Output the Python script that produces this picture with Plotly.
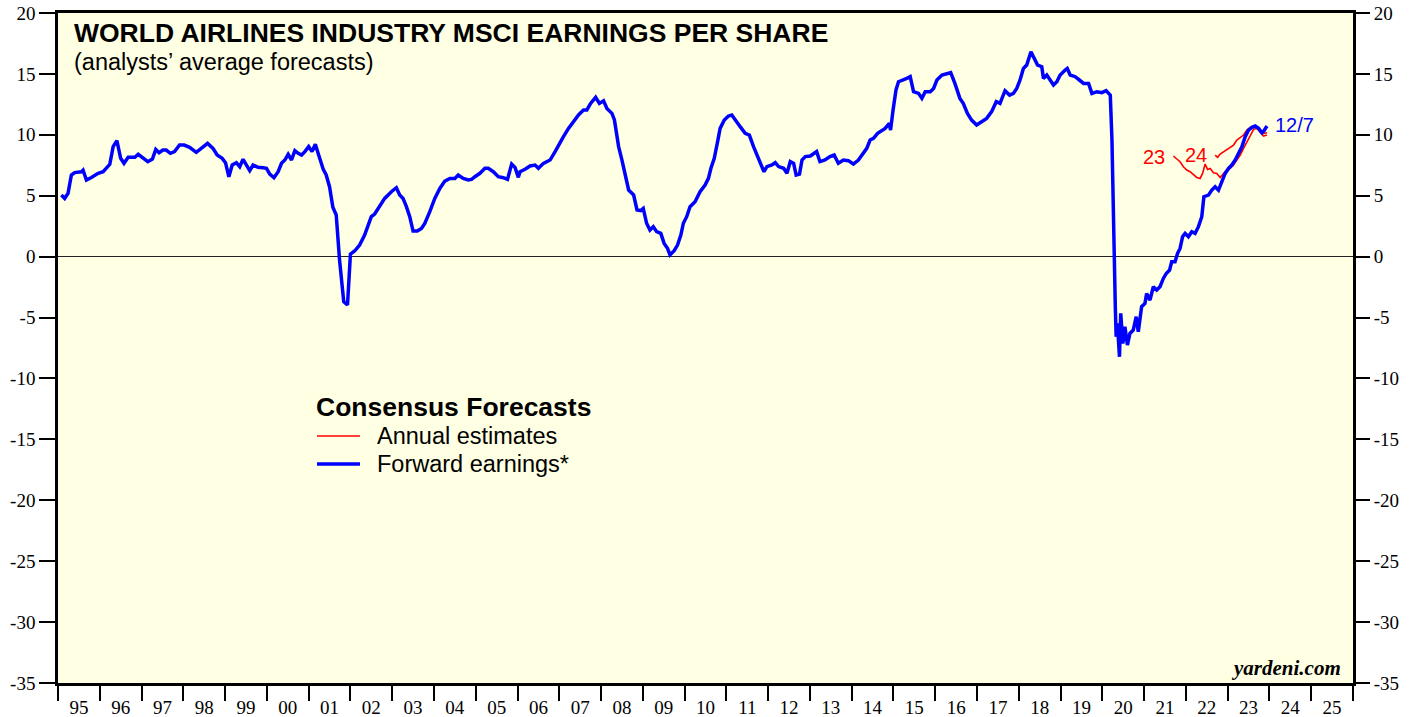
import plotly.graph_objects as go

# Forward earnings (decimal year, EPS)
fwd_year = [1995.08, 1995.16, 1995.24, 1995.32, 1995.40, 1995.56, 1995.60, 1995.68, 1995.80, 1995.96,
            1996.08, 1996.16, 1996.24, 1996.32, 1996.41, 1996.50, 1996.58, 1996.68, 1996.84, 1996.92,
            1997.04, 1997.15, 1997.26, 1997.34, 1997.42, 1997.51, 1997.59, 1997.69, 1997.79, 1997.91,
            1998.02, 1998.15, 1998.31, 1998.43, 1998.58, 1998.71, 1998.81, 1998.93, 1999.01, 1999.09,
            1999.17, 1999.27, 1999.35, 1999.43, 1999.51, 1999.59, 1999.67, 1999.79, 1999.91, 1999.99,
            2000.07, 2000.17, 2000.27, 2000.35, 2000.43, 2000.51, 2000.59, 2000.67, 2000.75, 2000.83,
            2000.91, 2001.00, 2001.08, 2001.16, 2001.24, 2001.35, 2001.42, 2001.50, 2001.58, 2001.66,
            2001.74, 2001.84, 2001.93, 2002.00, 2002.10, 2002.22, 2002.34, 2002.42, 2002.50, 2002.58,
            2002.66, 2002.82, 2002.98, 2003.10, 2003.18, 2003.26, 2003.34, 2003.42, 2003.50, 2003.60,
            2003.70, 2003.78, 2003.90, 2004.02, 2004.14, 2004.26, 2004.38, 2004.50, 2004.58, 2004.70,
            2004.82, 2004.90, 2004.98, 2005.10, 2005.22, 2005.30, 2005.42, 2005.54, 2005.66, 2005.76,
            2005.86, 2005.94, 2006.02, 2006.06, 2006.18, 2006.30, 2006.42, 2006.50, 2006.62, 2006.78,
            2006.90, 2006.98, 2007.10, 2007.22, 2007.34, 2007.46, 2007.58, 2007.66, 2007.75, 2007.87,
            2007.96, 2008.06, 2008.14, 2008.26, 2008.32, 2008.42, 2008.50, 2008.58, 2008.66, 2008.78,
            2008.86, 2008.95, 2009.01, 2009.09, 2009.17, 2009.25, 2009.33, 2009.43, 2009.51, 2009.59,
            2009.65, 2009.75, 2009.83, 2009.91, 2009.97, 2010.05, 2010.13, 2010.25, 2010.37, 2010.49,
            2010.57, 2010.63, 2010.71, 2010.79, 2010.85, 2010.95, 2011.05, 2011.13, 2011.21, 2011.33,
            2011.45, 2011.55, 2011.65, 2011.74, 2011.82, 2011.90, 2011.97, 2012.09, 2012.17, 2012.25,
            2012.37, 2012.45, 2012.53, 2012.61, 2012.67, 2012.75, 2012.81, 2012.89, 2013.01, 2013.16,
            2013.24, 2013.36, 2013.48, 2013.58, 2013.68, 2013.80, 2013.92, 2014.04, 2014.16, 2014.24,
            2014.36, 2014.44, 2014.52, 2014.62, 2014.80, 2014.90, 2014.93, 2014.99, 2015.06, 2015.12,
            2015.24, 2015.32, 2015.40, 2015.48, 2015.60, 2015.68, 2015.76, 2015.88, 2015.96, 2016.04,
            2016.16, 2016.28, 2016.37, 2016.47, 2016.59, 2016.67, 2016.77, 2016.87, 2016.99, 2017.11,
            2017.23, 2017.35, 2017.46, 2017.55, 2017.67, 2017.78, 2017.87, 2017.95, 2018.03, 2018.11,
            2018.19, 2018.29, 2018.37, 2018.45, 2018.55, 2018.59, 2018.67, 2018.75, 2018.83, 2018.91,
            2018.99, 2019.11, 2019.16, 2019.23, 2019.35, 2019.45, 2019.55, 2019.67, 2019.75, 2019.87,
            2019.99, 2020.09, 2020.19, 2020.23, 2020.27, 2020.31, 2020.33, 2020.36, 2020.41, 2020.44,
            2020.49, 2020.54, 2020.60, 2020.66, 2020.74, 2020.81, 2020.86, 2020.94, 2021.02, 2021.06,
            2021.14, 2021.22, 2021.30, 2021.38, 2021.46, 2021.53, 2021.61, 2021.66, 2021.74, 2021.80,
            2021.86, 2021.92, 2021.98, 2022.06, 2022.14, 2022.22, 2022.30, 2022.38, 2022.43, 2022.54,
            2022.62, 2022.70, 2022.78, 2022.86, 2022.94, 2023.02, 2023.10, 2023.18, 2023.26, 2023.34,
            2023.42, 2023.50, 2023.58, 2023.66, 2023.74, 2023.82, 2023.87, 2023.94]
fwd_eps = [5.06, 4.78, 5.20, 6.70, 6.90, 6.97, 7.10, 6.29, 6.50, 6.84,
           6.97, 7.25, 7.58, 9.03, 9.52, 8.07, 7.66, 8.15, 8.15, 8.40,
           8.07, 7.79, 8.01, 8.80, 8.53, 8.75, 8.75, 8.48, 8.62, 9.16,
           9.16, 8.97, 8.56, 8.89, 9.30, 8.89, 8.34, 8.07, 7.71, 6.56,
           7.52, 7.71, 7.38, 7.99, 7.58, 7.06, 7.52, 7.33, 7.30, 7.25,
           6.78, 6.48, 6.97, 7.66, 7.93, 8.40, 7.93, 8.70, 8.48, 8.34,
           8.62, 9.03, 8.62, 9.22, 8.34, 7.16, 6.70, 5.74, 4.05, 3.42,
           -0.28, -3.70, -3.97, 0.21, 0.46, 0.95, 1.77, 2.46, 3.28, 3.50,
           3.96, 4.78, 5.33, 5.66, 5.06, 4.78, 4.10, 3.28, 2.10, 2.10,
           2.32, 2.73, 3.69, 4.78, 5.60, 6.20, 6.42, 6.42, 6.70, 6.42,
           6.29, 6.34, 6.56, 6.84, 7.25, 7.25, 6.97, 6.56, 6.48, 6.34,
           7.60, 7.33, 6.51, 6.97, 7.17, 7.44, 7.52, 7.25, 7.66, 7.93,
           8.62, 9.16, 9.85, 10.53, 11.08, 11.63, 12.04, 12.04, 12.58, 13.08,
           12.58, 12.80, 12.17, 11.76, 11.22, 9.03, 7.93, 6.84, 5.47, 5.06,
           3.83, 3.78, 3.96, 2.74, 2.19, 2.46, 2.05, 1.91, 1.09, 0.68,
           0.14, 0.49, 0.95, 1.77, 2.74, 3.28, 4.10, 4.51, 5.33, 5.88,
           6.43, 7.25, 8.07, 9.44, 10.53, 11.22, 11.54, 11.63, 11.22, 10.67,
           10.12, 9.98, 9.03, 8.34, 7.71, 6.97, 7.39, 7.52, 7.71, 7.39,
           7.25, 6.84, 7.80, 7.66, 6.70, 6.78, 7.93, 8.21, 8.26, 8.62,
           7.80, 7.93, 8.21, 8.34, 7.66, 7.93, 7.88, 7.60, 7.93, 8.34,
           8.89, 9.57, 9.71, 10.12, 10.53, 10.94, 10.39, 12.03, 13.68, 14.36,
           14.50, 14.63, 14.77, 13.54, 13.40, 12.99, 13.54, 13.54, 13.81, 14.50,
           14.91, 15.04, 15.10, 14.22, 12.99, 12.58, 11.76, 11.21, 10.80, 11.07,
           11.35, 11.90, 12.72, 12.58, 13.62, 13.26, 13.40, 13.81, 14.50, 15.45,
           15.73, 16.82, 16.27, 15.73, 15.59, 14.63, 14.91, 14.50, 14.09, 14.36,
           14.91, 15.32, 15.45, 14.91, 14.77, 14.50, 14.22, 14.22, 13.40, 13.54,
           13.46, 13.62, 13.26, 9.57, 1.36, -4.11, -6.58, -5.48, -8.22, -4.66,
           -7.13, -5.76, -7.26, -6.30, -6.03, -4.93, -6.17, -4.11, -3.84, -3.02,
           -3.57, -2.47, -2.74, -2.47, -1.79, -1.38, -1.10, -0.42, -0.42, 0.26,
           0.67, 1.63, 1.91, 1.63, 2.04, 1.91, 2.46, 3.28, 4.92, 5.05,
           5.46, 5.74, 5.46, 6.15, 6.83, 7.24, 7.52, 7.93, 8.47, 9.02,
           9.84, 10.39, 10.61, 10.72, 10.53, 10.17, 10.34, 10.72]

# Annual estimates for 2023
est23_year = [2021.70, 2021.78, 2021.86, 2021.94, 2022.02, 2022.10, 2022.18, 2022.26, 2022.34, 2022.40,
              2022.46, 2022.52, 2022.58, 2022.66, 2022.74, 2022.82, 2022.90, 2022.98, 2023.06, 2023.14,
              2023.22, 2023.30, 2023.38, 2023.46, 2023.54, 2023.62, 2023.70, 2023.78, 2023.86, 2023.94]
est23 = [8.26, 8.06, 7.79, 7.38, 7.11, 6.97, 6.70, 6.50, 6.42, 6.83,
         7.60, 7.16, 7.24, 6.89, 6.83, 6.50, 6.83, 7.11, 7.24, 7.52,
         7.93, 8.34, 8.89, 9.43, 9.98, 10.45, 10.53, 10.17, 9.90, 9.98]

# Annual estimates for 2024
est24_year = [2022.70, 2022.76, 2022.82, 2022.90, 2022.98, 2023.06, 2023.14, 2023.22, 2023.30, 2023.38,
              2023.46, 2023.54, 2023.62, 2023.70, 2023.78, 2023.86, 2023.94]
est24 = [8.34, 8.15, 8.42, 8.61, 8.75, 8.97, 9.16, 9.57, 9.79, 9.98,
         10.39, 10.61, 10.72, 10.61, 10.34, 10.12, 10.17]

year_ticks = list(range(1995, 2027))
year_label_pos = [y + 0.5 for y in range(1995, 2026)]
year_labels = ["%02d" % (y % 100) for y in range(1995, 2026)]
y_ticks = list(range(-35, 21, 5))
y_ticklabels = [str(v) for v in y_ticks]  # plain hyphen minus, as in the original

SANS = "Liberation Sans, Arial, sans-serif"
SERIF = "Liberation Serif, Times New Roman, serif"
RED = "#FF0000"
BLUE = "#0000FF"

fig = go.Figure()
fig.add_trace(go.Scatter(x=est23_year, y=est23, mode="lines", name="Annual estimates 2023",
                         line=dict(color=RED, width=1.6), showlegend=False))
fig.add_trace(go.Scatter(x=est24_year, y=est24, mode="lines", name="Annual estimates 2024",
                         line=dict(color=RED, width=1.6), showlegend=False))
fig.add_trace(go.Scatter(x=fwd_year, y=fwd_eps, mode="lines", name="Forward earnings*",
                         line=dict(color=BLUE, width=3.5), showlegend=False))
# helper trace for secondary axes (year labels and right-hand value labels)
fig.add_trace(go.Scatter(x=[year_label_pos[0]], y=[None], xaxis="x2", yaxis="y2",
                         mode="lines", showlegend=False, hoverinfo="skip"))

fig.update_layout(
    width=1421, height=717,
    margin=dict(l=58, r=68, t=13, b=34, autoexpand=False),
    paper_bgcolor="white",
    plot_bgcolor="#FFFFE3",
    showlegend=False,
    xaxis=dict(range=[1995, 2026], tickvals=year_ticks, showticklabels=False, automargin=False,
               ticks="outside", ticklen=15, tickwidth=2, tickcolor="black",
               showgrid=False, zeroline=False,
               showline=True, linewidth=2.5, linecolor="black", mirror=True),
    xaxis2=dict(range=[1995, 2026], overlaying="x", anchor="y", side="bottom", automargin=False,
                tickvals=year_label_pos, ticktext=year_labels,
                ticks="outside", ticklen=7, tickcolor="rgba(0,0,0,0)",
                tickfont=dict(family=SERIF, size=19, color="black"),
                showgrid=False, zeroline=False, showline=False),
    yaxis=dict(range=[-35, 20], tickvals=y_ticks, ticktext=y_ticklabels, automargin=False,
               ticks="outside", ticklen=16, tickwidth=1.5, tickcolor="black",
               tickfont=dict(family=SERIF, size=19, color="black"),
               showgrid=False, zeroline=True, zerolinecolor="#222222", zerolinewidth=1,
               showline=True, linewidth=2.5, linecolor="black", mirror=True),
    yaxis2=dict(range=[-35, 20], tickvals=y_ticks, ticktext=y_ticklabels, overlaying="y",
                side="right", anchor="x", automargin=False,
                ticks="outside", ticklen=16, tickwidth=1.5, tickcolor="black",
                tickfont=dict(family=SERIF, size=19, color="black"),
                showgrid=False, zeroline=False, showline=False),
)

# Legend drawn as swatches + text (paper coordinates of the plot area)
leg_x0, leg_x1, leg_tx = 0.2, 0.2332, 0.2448
leg_title_y, leg_red_y, leg_blue_y = 0.412, 0.3687, 0.3269
shapes = [
    dict(type="line", xref="paper", yref="paper", x0=leg_x0, x1=leg_x1, y0=leg_red_y, y1=leg_red_y,
         line=dict(color=RED, width=1.6)),
    dict(type="line", xref="paper", yref="paper", x0=leg_x0, x1=leg_x1, y0=leg_blue_y, y1=leg_blue_y,
         line=dict(color=BLUE, width=3.5)),
]
fig.update_layout(shapes=shapes)

annotations = [
    dict(text="<b>WORLD AIRLINES INDUSTRY MSCI EARNINGS PER SHARE</b>", xref="paper", yref="paper",
         x=0.0105, y=0.970, xanchor="left", yanchor="middle", showarrow=False,
         font=dict(family=SANS, size=26.5, color="black")),
    dict(text="(analysts’ average forecasts)", xref="paper", yref="paper",
         x=0.0105, y=0.927, xanchor="left", yanchor="middle", showarrow=False,
         font=dict(family=SANS, size=23.5, color="black")),
    dict(text="<b>Consensus Forecasts</b>", xref="paper", yref="paper",
         x=leg_x0 - 0.002, y=leg_title_y, xanchor="left", yanchor="middle", showarrow=False,
         font=dict(family=SANS, size=26.5, color="black")),
    dict(text="Annual estimates", xref="paper", yref="paper",
         x=leg_tx, y=leg_red_y, xanchor="left", yanchor="middle", showarrow=False,
         font=dict(family=SANS, size=23.5, color="black")),
    dict(text="Forward earnings*", xref="paper", yref="paper",
         x=leg_tx, y=leg_blue_y, xanchor="left", yanchor="middle", showarrow=False,
         font=dict(family=SANS, size=23.5, color="black")),
    dict(text="<b><i>yardeni.com</i></b>", xref="paper", yref="paper",
         x=0.992, y=0.022, xanchor="right", yanchor="middle", showarrow=False,
         font=dict(family=SERIF, size=21, color="black")),
    dict(text="23", x=2021.24, y=8.18, xref="x", yref="y", showarrow=False,
         xanchor="center", yanchor="middle", font=dict(family=SANS, size=20, color=RED)),
    dict(text="24", x=2022.24, y=8.38, xref="x", yref="y", showarrow=False,
         xanchor="center", yanchor="middle", font=dict(family=SANS, size=20, color=RED)),
    dict(text="12/7", x=2024.61, y=10.8, xref="x", yref="y", showarrow=False,
         xanchor="center", yanchor="middle", font=dict(family=SANS, size=20, color=BLUE)),
]
fig.update_layout(annotations=annotations)

# remove the browser's default 8px page margin so the figure fills the window exactly
fig.write_html("out.html", config={"displayModeBar": False},
               post_script="document.body.style.margin='0';")
